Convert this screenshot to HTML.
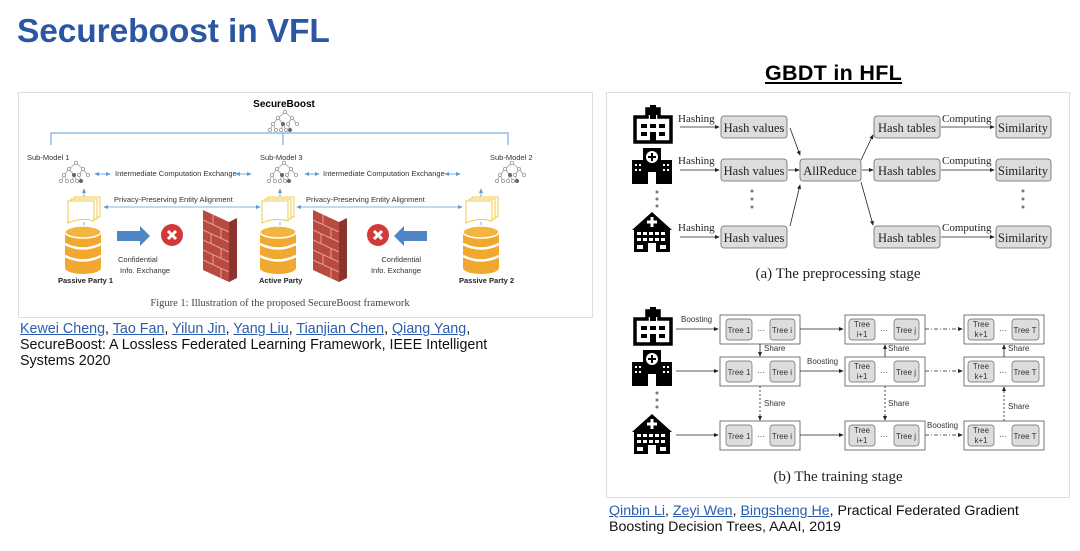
<!DOCTYPE html>
<html><head><meta charset="utf-8"><style>
html,body{margin:0;padding:0;background:#fff;}
body{width:1080px;height:551px;overflow:hidden;position:relative;font-family:"Liberation Sans",Arial,sans-serif;}
.t{position:absolute;white-space:nowrap;}
a{color:#2a5db0;text-decoration:underline;}
</style></head><body>
<div class="t" style="left:17px;top:13px;font-size:33.5px;font-weight:bold;color:#2b56a3;letter-spacing:-0.1px">Secureboost in VFL</div>
<div class="t" style="left:765px;top:61px;font-size:21.5px;font-weight:bold;text-decoration:underline;color:#000;letter-spacing:0.3px">GBDT in HFL</div>
<div class="t" style="left:20px;top:321px;font-size:14.3px;line-height:16px;color:#111">
<a>Kewei Cheng</a>, <a>Tao Fan</a>, <a>Yilun Jin</a>, <a>Yang Liu</a>, <a>Tianjian Chen</a>, <a>Qiang Yang</a>,<br>SecureBoost: A Lossless Federated Learning Framework, IEEE Intelligent<br>Systems 2020</div>
<div class="t" style="left:609px;top:503px;font-size:14.2px;line-height:16px;color:#111">
<a>Qinbin Li</a>, <a>Zeyi Wen</a>, <a>Bingsheng He</a>, Practical Federated Gradient<br>Boosting Decision Trees, AAAI, 2019</div>

<svg width="1080" height="551" style="position:absolute;left:0;top:0" xmlns="http://www.w3.org/2000/svg">
<defs>
<g id="tree" fill="none" stroke="#999" stroke-width="0.8">
<path d="M0,0 L-7,6 M0,0 L7,6 M-7,6 L-12,12 M-7,6 L-2,12 M7,6 L3,12 M7,6 L12,12 M-12,12 L-15,18 M-12,12 L-9,18 M-2,12 L-4,18 M-2,12 L1,18 M3,12 L5,18"/>
<circle cx="0" cy="0" r="1.6" fill="#fff"/><circle cx="-7" cy="6" r="1.6" fill="#fff"/><circle cx="7" cy="6" r="1.6" fill="#fff"/>
<circle cx="-12" cy="12" r="1.6" fill="#fff"/><circle cx="-2" cy="12" r="1.6" fill="#666" stroke="#666"/><circle cx="3" cy="12" r="1.6" fill="#fff"/><circle cx="12" cy="12" r="1.6" fill="#fff"/>
<circle cx="-15" cy="18" r="1.6" fill="#fff"/><circle cx="-9" cy="18" r="1.6" fill="#fff"/><circle cx="-4" cy="18" r="1.6" fill="#fff"/><circle cx="1" cy="18" r="1.6" fill="#fff"/><circle cx="5" cy="18" r="1.6" fill="#666" stroke="#666"/>
</g>
<g id="db">
<rect x="0" y="6" width="36" height="36" fill="#f0a830"/>
<ellipse cx="18" cy="42" rx="18" ry="6" fill="#f0a830"/>
<path d="M0,18 Q18,27 36,18 M0,30 Q18,39 36,30" stroke="#fff" stroke-width="2.5" fill="none"/>
<ellipse cx="18" cy="6" rx="18" ry="6" fill="#f4b440" stroke="#fff" stroke-width="1.5"/>
</g>
<g id="doc" fill="#fff" stroke="#f2c84a" stroke-width="1">
<rect x="6" y="0" width="26" height="20"/><rect x="3" y="2" width="26" height="20"/>
<path d="M0,4 H26 V24 Q13,20 0,26 Z"/>
</g>
<g id="wall">
<path d="M0,0 L26,12 L26,72 L0,60 Z" fill="#b84a40"/>
<path d="M26,12 L34,8 L34,68 L26,72 Z" fill="#8a3530"/>
<path d="M0,10 L26,22 M0,20 L26,32 M0,30 L26,42 M0,40 L26,52 M0,50 L26,62 M10,5 L10,15 M18,19 L18,29 M8,24 L8,34 M18,38 L18,48 M10,44 L10,54 M18,58 L18,68" stroke="#e0a090" stroke-width="1" fill="none"/>
</g>
<g id="xc"><circle r="11" fill="#d4393a"/><path d="M-4,-4 L4,4 M4,-4 L-4,4" stroke="#fff" stroke-width="3"/></g>
<g id="h1"><path d="M2,14 H14 V6 H26 V14 H38 V39 H2 Z" fill="none" stroke="#000" stroke-width="3.5"/><rect x="17" y="2" width="6" height="14" fill="#000"/><rect x="13" y="6" width="14" height="6" fill="#000"/><rect x="8" y="21" width="6" height="4"/><rect x="17" y="21" width="6" height="4"/><rect x="26" y="21" width="6" height="4"/><rect x="8" y="29" width="6" height="4"/><rect x="26" y="29" width="6" height="4"/><rect x="17" y="29" width="6" height="10"/></g>
<g id="h2"><rect x="0" y="12" width="12" height="24"/><rect x="28" y="12" width="12" height="24"/><rect x="11" y="0" width="18" height="36"/><circle cx="20" cy="9" r="6" fill="#fff"/><path d="M20,5 V13 M16,9 H24" stroke="#000" stroke-width="2"/><rect x="16" y="24" width="8" height="12" fill="#fff"/><g fill="#fff"><rect x="3" y="16" width="2" height="2"/><rect x="7" y="16" width="2" height="2"/><rect x="3" y="21" width="2" height="2"/><rect x="7" y="21" width="2" height="2"/><rect x="31" y="16" width="2" height="2"/><rect x="35" y="16" width="2" height="2"/><rect x="31" y="21" width="2" height="2"/><rect x="35" y="21" width="2" height="2"/></g></g>
<g id="h3"><path d="M0,18 L20,0 L40,18 Z"/><rect x="2" y="16" width="36" height="24"/><path d="M20,5 V15 M15,10 H25" stroke="#fff" stroke-width="3"/><g fill="#fff"><rect x="5" y="20" width="4" height="3"/><rect x="11" y="20" width="4" height="3"/><rect x="17" y="20" width="4" height="3"/><rect x="23" y="20" width="4" height="3"/><rect x="29" y="20" width="4" height="3"/><rect x="5" y="26" width="4" height="3"/><rect x="11" y="26" width="4" height="3"/><rect x="17" y="26" width="4" height="3"/><rect x="23" y="26" width="4" height="3"/><rect x="29" y="26" width="4" height="3"/><rect x="5" y="33" width="6" height="4"/><rect x="28" y="33" width="6" height="4"/><rect x="16" y="31" width="8" height="9"/></g></g>
<marker id="ar" markerWidth="6" markerHeight="6" refX="5" refY="3" orient="auto"><path d="M0,0.5 L6,3 L0,5.5 Z" fill="#222"/></marker>
<marker id="ab" markerWidth="6" markerHeight="6" refX="5" refY="3" orient="auto"><path d="M0,0.5 L6,3 L0,5.5 Z" fill="#5b9bd5"/></marker>
<marker id="abs" markerWidth="6" markerHeight="6" refX="1" refY="3" orient="auto"><path d="M6,0.5 L0,3 L6,5.5 Z" fill="#5b9bd5"/></marker>
</defs>

<!-- left figure -->
<rect x="18.5" y="92.5" width="574" height="225" fill="#fff" stroke="#ddd"/>
<text x="284" y="107" font-size="10" font-weight="bold" text-anchor="middle" font-family="Liberation Sans">SecureBoost</text>
<use href="#tree" x="285" y="112"/>
<path d="M51,145 V133 H508 V145 M283,133 V145" stroke="#5b9bd5" fill="none"/>
<g font-size="7.5" fill="#333" font-family="Liberation Sans">
<text x="27" y="160">Sub-Model 1</text><text x="260" y="160">Sub-Model 3</text><text x="490" y="160">Sub-Model 2</text>
<text x="115" y="176">Intermediate Computation Exchange</text>
<text x="323" y="176">Intermediate Computation Exchange</text>
<text x="114" y="202">Privacy-Preserving Entity Alignment</text>
<text x="306" y="202">Privacy-Preserving Entity Alignment</text>
<text x="118" y="262">Confidential</text><text x="120" y="273">Info. Exchange</text>
<text x="421" y="262" text-anchor="end">Confidential</text><text x="421" y="273" text-anchor="end">Info. Exchange</text>
</g>
<g font-size="7.5" font-weight="bold" fill="#222" font-family="Liberation Sans">
<text x="58" y="283">Passive Party 1</text><text x="259" y="283">Active Party</text><text x="459" y="283">Passive Party 2</text>
</g>
<use href="#tree" x="76" y="163"/><use href="#tree" x="284" y="163"/><use href="#tree" x="512" y="163"/>
<g stroke="#5b9bd5" stroke-width="0.8">
<line x1="95" y1="174" x2="110" y2="174" marker-end="url(#ab)" marker-start="url(#abs)"/>
<line x1="236" y1="174" x2="251" y2="174" marker-end="url(#ab)" marker-start="url(#abs)"/>
<line x1="305" y1="174" x2="319" y2="174" marker-end="url(#ab)" marker-start="url(#abs)"/>
<line x1="445" y1="174" x2="460" y2="174" marker-end="url(#ab)" marker-start="url(#abs)"/>
<line x1="104" y1="207" x2="260" y2="207" marker-end="url(#ab)" marker-start="url(#abs)"/>
<line x1="297" y1="207" x2="462" y2="207" marker-end="url(#ab)" marker-start="url(#abs)"/>
<line x1="84" y1="198" x2="84" y2="189" marker-end="url(#ab)"/>
<line x1="280" y1="198" x2="280" y2="189" marker-end="url(#ab)"/>
<line x1="481" y1="198" x2="481" y2="189" marker-end="url(#ab)"/>
<line x1="84" y1="222" x2="84" y2="230"/><line x1="280" y1="222" x2="280" y2="230"/><line x1="481" y1="222" x2="481" y2="230"/>
</g>
<use href="#doc" x="68" y="197"/><use href="#doc" x="262" y="197"/><use href="#doc" x="466" y="197"/>
<use href="#db" x="65" y="226"/><use href="#db" x="260" y="226"/><use href="#db" x="463" y="226"/>
<path d="M117,231 H140 V226 L150,236 L140,246 V241 H117 Z" fill="#4f86c6"/>
<path d="M427,231 H404 V226 L394,236 L404,246 V241 H427 Z" fill="#4f86c6"/>
<use href="#xc" x="172" y="235"/><use href="#xc" x="378" y="235"/>
<use href="#wall" x="203" y="210"/><use href="#wall" x="313" y="210"/>
<text x="280" y="306" font-size="10.5" text-anchor="middle" fill="#444" font-family="Liberation Serif">Figure 1: Illustration of the proposed SecureBoost framework</text>

<!-- right figure -->
<rect x="606.5" y="92.5" width="463" height="405" fill="#fff" stroke="#ddd"/>
<use href="#h1" x="633" y="103"/><use href="#h2" x="632" y="148"/><use href="#h3" x="632" y="212"/>
<g fill="#777"><circle cx="657" cy="192" r="1.5"/><circle cx="657" cy="199" r="1.5"/><circle cx="657" cy="206" r="1.5"/>
<circle cx="752" cy="191" r="1.5"/><circle cx="752" cy="199" r="1.5"/><circle cx="752" cy="207" r="1.5"/>
<circle cx="1023" cy="191" r="1.5"/><circle cx="1023" cy="199" r="1.5"/><circle cx="1023" cy="207" r="1.5"/></g>
<g font-family="Liberation Serif" font-size="11" fill="#222">
<text x="678" y="122">Hashing</text><text x="678" y="164">Hashing</text><text x="678" y="231">Hashing</text>
<text x="942" y="122">Computing</text><text x="942" y="164">Computing</text><text x="942" y="231">Computing</text>
</g>
<g stroke="#222" stroke-width="0.8" fill="none" marker-end="url(#ar)">
<line x1="680" y1="127" x2="719" y2="127"/><line x1="680" y1="170" x2="719" y2="170"/><line x1="680" y1="237" x2="719" y2="237"/>
<line x1="941" y1="127" x2="994" y2="127"/><line x1="941" y1="170" x2="994" y2="170"/><line x1="941" y1="237" x2="994" y2="237"/>
<line x1="788" y1="170" x2="799" y2="170"/><line x1="862" y1="170" x2="873" y2="170"/>
<line x1="790" y1="128" x2="800" y2="155"/><line x1="790" y1="226" x2="800" y2="185"/>
<line x1="861" y1="160" x2="873" y2="135"/><line x1="861" y1="182" x2="873" y2="225"/>
</g>
<g fill="#ddd" stroke="#666" stroke-width="0.8">
<rect x="721" y="116" width="66" height="22" rx="3"/><rect x="721" y="159" width="66" height="22" rx="3"/><rect x="721" y="226" width="66" height="22" rx="3"/>
<rect x="800" y="159" width="61" height="22" rx="3"/>
<rect x="874" y="116" width="66" height="22" rx="3"/><rect x="874" y="159" width="66" height="22" rx="3"/><rect x="874" y="226" width="66" height="22" rx="3"/>
<rect x="996" y="116" width="55" height="22" rx="3"/><rect x="996" y="159" width="55" height="22" rx="3"/><rect x="996" y="226" width="55" height="22" rx="3"/>
</g>
<g font-family="Liberation Serif" font-size="12.5" fill="#222" text-anchor="middle">
<text x="754" y="132">Hash values</text><text x="754" y="175">Hash values</text><text x="754" y="242">Hash values</text>
<text x="830" y="175">AllReduce</text>
<text x="907" y="132">Hash tables</text><text x="907" y="175">Hash tables</text><text x="907" y="242">Hash tables</text>
<text x="1023" y="132">Similarity</text><text x="1023" y="175">Similarity</text><text x="1023" y="242">Similarity</text>
</g>
<text x="838" y="278" font-family="Liberation Serif" font-size="15" text-anchor="middle" fill="#222">(a) The preprocessing stage</text>

<!-- (b) -->
<use href="#h1" x="633" y="305"/><use href="#h2" x="632" y="350"/><use href="#h3" x="632" y="414"/>
<g fill="#777"><circle cx="657" cy="393" r="1.5"/><circle cx="657" cy="400" r="1.5"/><circle cx="657" cy="407" r="1.5"/></g>
<g fill="#fff" stroke="#555" stroke-width="0.8">
<rect x="720" y="315" width="80" height="29"/><rect x="720" y="357" width="80" height="29"/><rect x="720" y="421" width="80" height="29"/>
<rect x="845" y="315" width="80" height="29"/><rect x="845" y="357" width="80" height="29"/><rect x="845" y="421" width="80" height="29"/>
<rect x="964" y="315" width="80" height="29"/><rect x="964" y="357" width="80" height="29"/><rect x="964" y="421" width="80" height="29"/>
</g>
<g fill="#ddd" stroke="#666" stroke-width="0.7">
<rect x="726" y="319" width="26" height="21" rx="3"/><rect x="770" y="319" width="25" height="21" rx="3"/>
<rect x="726" y="361" width="26" height="21" rx="3"/><rect x="770" y="361" width="25" height="21" rx="3"/>
<rect x="726" y="425" width="26" height="21" rx="3"/><rect x="770" y="425" width="25" height="21" rx="3"/>
<rect x="849" y="319" width="26" height="21" rx="3"/><rect x="894" y="319" width="25" height="21" rx="3"/>
<rect x="849" y="361" width="26" height="21" rx="3"/><rect x="894" y="361" width="25" height="21" rx="3"/>
<rect x="849" y="425" width="26" height="21" rx="3"/><rect x="894" y="425" width="25" height="21" rx="3"/>
<rect x="968" y="319" width="26" height="21" rx="3"/><rect x="1012" y="319" width="27" height="21" rx="3"/>
<rect x="968" y="361" width="26" height="21" rx="3"/><rect x="1012" y="361" width="27" height="21" rx="3"/>
<rect x="968" y="425" width="26" height="21" rx="3"/><rect x="1012" y="425" width="27" height="21" rx="3"/>
</g>
<g font-family="Liberation Sans" font-size="8" fill="#333" text-anchor="middle">
<text x="739" y="333">Tree 1</text><text x="782" y="333">Tree i</text>
<text x="739" y="375">Tree 1</text><text x="782" y="375">Tree i</text>
<text x="739" y="439">Tree 1</text><text x="782" y="439">Tree i</text>
<text x="862" y="327">Tree</text><text x="862" y="337">i+1</text><text x="906" y="333">Tree j</text>
<text x="862" y="369">Tree</text><text x="862" y="379">i+1</text><text x="906" y="375">Tree j</text>
<text x="862" y="433">Tree</text><text x="862" y="443">i+1</text><text x="906" y="439">Tree j</text>
<text x="981" y="327">Tree</text><text x="981" y="337">k+1</text><text x="1025" y="333">Tree T</text>
<text x="981" y="369">Tree</text><text x="981" y="379">k+1</text><text x="1025" y="375">Tree T</text>
<text x="981" y="433">Tree</text><text x="981" y="443">k+1</text><text x="1025" y="439">Tree T</text>
<text x="761" y="333">···</text><text x="761" y="375">···</text><text x="761" y="439">···</text>
<text x="884" y="333">···</text><text x="884" y="375">···</text><text x="884" y="439">···</text>
<text x="1003" y="333">···</text><text x="1003" y="375">···</text><text x="1003" y="439">···</text>
</g>
<g font-family="Liberation Sans" font-size="8" fill="#333">
<text x="681" y="322">Boosting</text><text x="807" y="364">Boosting</text><text x="927" y="428">Boosting</text>
<text x="764" y="351">Share</text><text x="888" y="351">Share</text><text x="1008" y="351">Share</text>
<text x="764" y="406">Share</text><text x="888" y="406">Share</text><text x="1008" y="409">Share</text>
</g>
<g stroke="#222" stroke-width="0.8" fill="none" marker-end="url(#ar)">
<line x1="676" y1="329" x2="718" y2="329"/><line x1="676" y1="371" x2="718" y2="371"/><line x1="676" y1="435" x2="718" y2="435"/>
<line x1="800" y1="329" x2="843" y2="329"/><line x1="800" y1="371" x2="843" y2="371"/><line x1="800" y1="435" x2="843" y2="435"/>
<line x1="925" y1="329" x2="962" y2="329" stroke-dasharray="4,2,1,2"/><line x1="925" y1="371" x2="962" y2="371" stroke-dasharray="4,2,1,2"/><line x1="925" y1="435" x2="962" y2="435" stroke-dasharray="4,2,1,2"/>
<line x1="760" y1="344" x2="760" y2="356"/><line x1="885" y1="357" x2="885" y2="345"/><line x1="1004" y1="357" x2="1004" y2="345"/>
<line x1="760" y1="386" x2="760" y2="420" stroke-dasharray="2,2"/><line x1="885" y1="386" x2="885" y2="420" stroke-dasharray="2,2"/><line x1="1004" y1="421" x2="1004" y2="387" stroke-dasharray="2,2"/>
</g>
<text x="838" y="481" font-family="Liberation Serif" font-size="15" text-anchor="middle" fill="#222">(b) The training stage</text>
</svg>
</body></html>
